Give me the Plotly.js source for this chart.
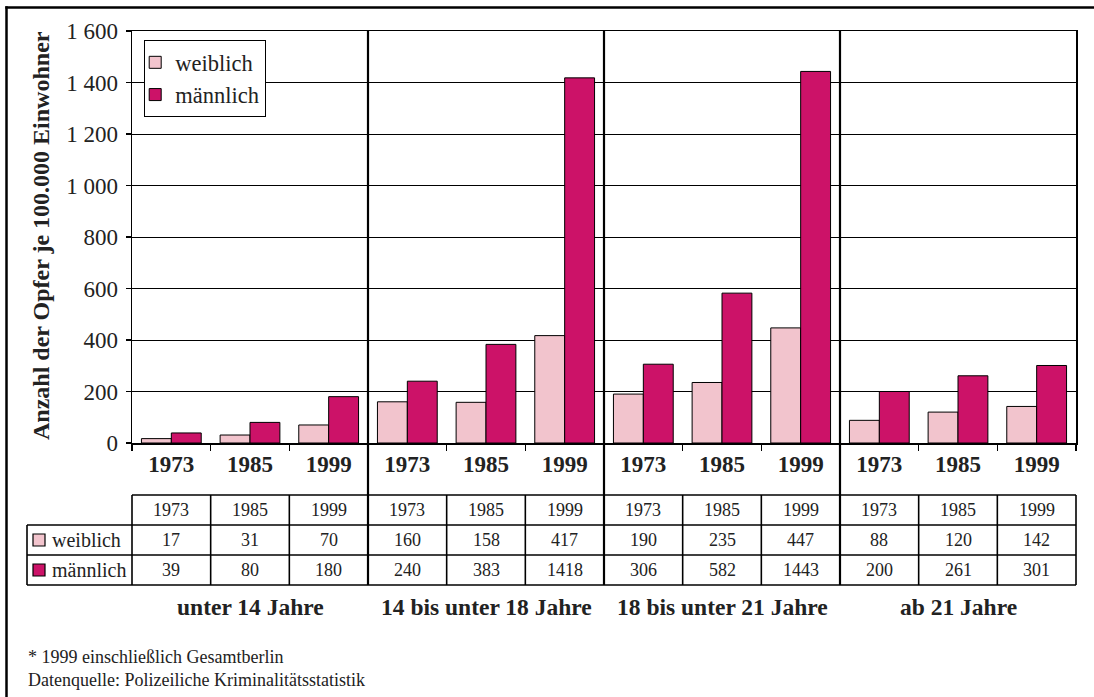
<!DOCTYPE html>
<html>
<head>
<meta charset="utf-8">
<script src="https://cdn.plot.ly/plotly-3.0.1.min.js"></script>
<style>html,body{margin:0;padding:0;background:#fff;overflow:hidden;}#chart{width:1094px;height:697px;}</style>
</head>
<body>
<div id="chart"></div>
<script>
// ---- data ----
const years = ['1973', '1985', '1999'];
const groups = ['unter 14 Jahre', '14 bis unter 18 Jahre', '18 bis unter 21 Jahre', 'ab 21 Jahre'];
const weiblich = [17, 31, 70, 160, 158, 417, 190, 235, 447, 88, 120, 142];
const maennlich = [39, 80, 180, 240, 383, 1418, 306, 582, 1443, 200, 261, 301];
const seriesNames = ['weiblich', 'männlich'];
const yTitle = 'Anzahl der Opfer je 100.000 Einwohner';
const footnotes = ['* 1999 einschließlich Gesamtberlin', 'Datenquelle: Polizeiliche Kriminalitätsstatistik'];

// ---- layout helpers ----
const W = 1094, H = 697;
const L = 132, R = 1076, T = 31, B = 443;
const px = p => (p - L) / (R - L);
const py = p => (B - p) / (B - T);
const FONT = '"Liberation Serif", "Times New Roman", serif';
const colW = 'rgb(242,196,205)';
const colM = 'rgb(204,18,104)';

const cats = [];
const catYears = [];
groups.forEach((g, gi) => years.forEach(y => { cats.push(g + ' ' + y); catYears.push(y); }));

const traces = [
  {type: 'bar', name: seriesNames[0], x: cats, y: weiblich,
   marker: {color: colW, line: {color: '#000', width: 1}}, hoverinfo: 'x+y'},
  {type: 'bar', name: seriesNames[1], x: cats, y: maennlich,
   marker: {color: colM, line: {color: '#000', width: 1}}, hoverinfo: 'x+y'}
];

const shapes = [];
const annotations = [];
const lineBlack = w => ({color: '#000', width: w});

// outer frame: only the top and left edges fall inside the page
shapes.push({type: 'line', xref: 'paper', yref: 'paper', x0: px(5.3), x1: px(1094), y0: py(7.5), y1: py(7.5), line: lineBlack(2.5)});
shapes.push({type: 'line', xref: 'paper', yref: 'paper', x0: px(6.5), x1: px(6.5), y0: py(6.3), y1: py(697), line: lineBlack(2.5)});

// table geometry (pixel rows)
const tTop = 495, r1 = 525, r2 = 555, tBot = 585;
shapes.push({type: 'line', xref: 'paper', yref: 'paper', x0: 0, x1: 1, y0: py(tTop), y1: py(tTop), line: lineBlack(1.6)});
[r1, r2, tBot].forEach(r => shapes.push({type: 'line', xref: 'paper', yref: 'paper', x0: px(27), x1: 1, y0: py(r), y1: py(r), line: lineBlack(1.6)}));
shapes.push({type: 'line', xref: 'paper', yref: 'paper', x0: 0, x1: 0, y0: py(tTop), y1: py(tBot), line: lineBlack(1.6)});
shapes.push({type: 'line', xref: 'paper', yref: 'paper', x0: 1, x1: 1, y0: py(tTop), y1: py(tBot), line: lineBlack(1.6)});
shapes.push({type: 'line', xref: 'paper', yref: 'paper', x0: px(27), x1: px(27), y0: py(r1), y1: py(tBot), line: lineBlack(1.6)});
for (let i = 0; i < cats.length - 1; i++) {
  const sep = (i + 1) % years.length === 0;
  shapes.push({type: 'line', xref: 'x', yref: 'paper', x0: i + 0.5, x1: i + 0.5,
    y0: sep ? 1 : py(tTop), y1: py(tBot), line: lineBlack(sep ? 2.2 : 1.6)});
}

// table text
cats.forEach((c, i) => {
  annotations.push({xref: 'x', yref: 'paper', x: c, y: py((tTop + r1) / 2), text: catYears[i], showarrow: false,
    font: {family: FONT, size: 18, color: '#222'}, xanchor: 'center', yanchor: 'middle'});
  annotations.push({xref: 'x', yref: 'paper', x: c, y: py((r1 + r2) / 2), text: String(weiblich[i]), showarrow: false,
    font: {family: FONT, size: 18, color: '#222'}, xanchor: 'center', yanchor: 'middle'});
  annotations.push({xref: 'x', yref: 'paper', x: c, y: py((r2 + tBot) / 2), text: String(maennlich[i]), showarrow: false,
    font: {family: FONT, size: 18, color: '#222'}, xanchor: 'center', yanchor: 'middle'});
});
[[r1, r2, colW, seriesNames[0]], [r2, tBot, colM, seriesNames[1]]].forEach(([a, b, col, name]) => {
  const m = (a + b) / 2;
  shapes.push({type: 'rect', xref: 'paper', yref: 'paper', x0: px(33), x1: px(45), y0: py(m - 6), y1: py(m + 6),
    fillcolor: col, line: lineBlack(1.2)});
  annotations.push({xref: 'paper', yref: 'paper', x: px(50), y: py(m), text: name, showarrow: false,
    font: {family: FONT, size: 20, color: '#222'}, xanchor: 'left', yanchor: 'middle'});
});

// group labels
groups.forEach((g, gi) => {
  annotations.push({xref: 'x', yref: 'paper', x: cats[gi * years.length + 1], y: py(607), text: '<b>' + g + '</b>', showarrow: false,
    font: {family: FONT, size: 23.5, color: '#222'}, xanchor: 'center', yanchor: 'middle'});
});

// y-axis title
annotations.push({xref: 'paper', yref: 'paper', x: px(41), y: py(236), text: '<b>' + yTitle + '</b>', textangle: -90, showarrow: false,
  font: {family: FONT, size: 24, color: '#222'}, xanchor: 'center', yanchor: 'middle'});

// footnotes
footnotes.forEach((f, i) => {
  annotations.push({xref: 'paper', yref: 'paper', x: px(26), y: py(657 + i * 23), text: f, showarrow: false,
    font: {family: FONT, size: 18, color: '#222'}, xanchor: 'left', yanchor: 'middle'});
});

const layout = {
  width: W, height: H,
  margin: {l: L, r: W - R, t: T, b: H - B},
  paper_bgcolor: '#fff', plot_bgcolor: '#fff',
  font: {family: FONT, color: '#222'},
  separators: ', ',
  barmode: 'group', bargap: 0.24, bargroupgap: 0,
  showlegend: true,
  legend: {x: px(144), y: py(40), xanchor: 'left', yanchor: 'top', bgcolor: '#fff',
    bordercolor: '#000', borderwidth: 1.2, font: {family: FONT, size: 22.5, color: '#222'},
    itemwidth: 30, tracegroupgap: 0, indentation: -10},
  xaxis: {type: 'category', categoryorder: 'array', categoryarray: cats, tickmode: 'array',
    tickvals: cats, ticktext: catYears.map(y => '<b>' + y + '</b>'), tickson: 'boundaries',
    ticks: 'outside', ticklen: 6, tickcolor: '#000', tickwidth: 1.2,
    tickfont: {family: FONT, size: 23, color: '#222'},
    showline: true, linecolor: '#000', linewidth: 1.5, mirror: true, showgrid: false, zeroline: false, fixedrange: true},
  yaxis: {range: [0, 1600], dtick: 200, tickformat: ',d', ticks: 'outside', ticklen: 5, tickcolor: '#000', tickwidth: 1.2,
    tickfont: {family: FONT, size: 23, color: '#222'}, ticklabelstandoff: 3,
    showline: true, linecolor: '#000', linewidth: 1.5, mirror: true,
    showgrid: true, gridcolor: '#000', gridwidth: 1, zeroline: false, fixedrange: true},
  shapes: shapes,
  annotations: annotations
};

Plotly.newPlot('chart', traces, layout, {displayModeBar: false, staticPlot: true});
</script>
</body>
</html>
